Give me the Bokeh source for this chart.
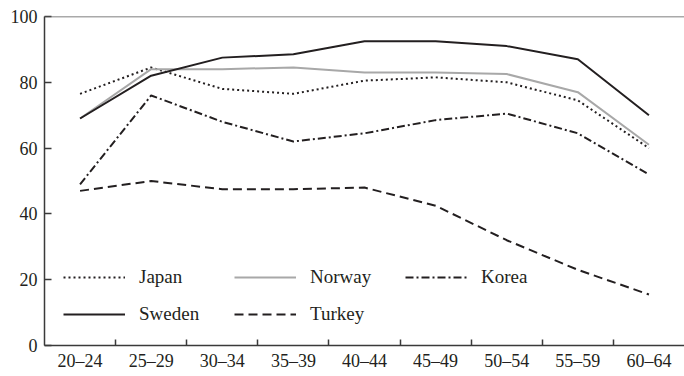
from bokeh.plotting import figure
from bokeh.models import (Range1d, LinearAxis, FixedTicker, Legend, LegendItem, Span,
                          CustomJSTickFormatter)
from bokeh.embed import file_html
from bokeh.resources import INLINE

age_groups = ["20–24", "25–29", "30–34", "35–39", "40–44", "45–49", "50–54", "55–59", "60–64"]
japan = [76.5, 84.5, 78, 76.5, 80.5, 81.5, 80, 74.5, 60]
norway = [69, 84, 84, 84.5, 83, 83, 82.5, 77, 61]
sweden = [69, 82, 87.5, 88.5, 92.5, 92.5, 91, 87, 70]
korea = [49, 76, 68, 62, 64.5, 68.5, 70.5, 64.5, 52]
turkey = [47, 50, 47.5, 47.5, 48, 42.5, 32, 23, 15.5]
y_ticks = [0, 20, 40, 60, 80, 100]

n = len(age_groups)
x_pos = [i + 0.5 for i in range(n)]          # centre of each age-group slot
x_bounds = list(range(1, n))                  # boundaries between slots

FONT = "Liberation Serif"
INK = "#231f20"
AXIS = "#3a3a3a"
GRAY = "#a8a8a8"

p = figure(frame_width=640, frame_height=329,
           x_range=Range1d(0, n), y_range=Range1d(y_ticks[0], y_ticks[-1]),
           x_axis_type=None, output_backend="svg", toolbar_location=None,
           min_border_left=44, min_border_right=0, min_border_top=16, min_border_bottom=0)
p.outline_line_color = None
p.ygrid.grid_line_color = None
p.background_fill_color = "white"

# y axis
p.yaxis.ticker = FixedTicker(ticks=y_ticks)
p.yaxis.major_tick_in = 7
p.yaxis.major_tick_out = 0
p.yaxis.minor_tick_line_color = None
p.yaxis.axis_line_color = AXIS
p.yaxis.axis_line_width = 1.5
p.yaxis.major_tick_line_color = AXIS
p.yaxis.major_tick_line_width = 1.5
p.yaxis.major_label_standoff = 7
p.yaxis.major_label_text_font = FONT
p.yaxis.major_label_text_font_size = "18px"
p.yaxis.major_label_text_color = INK

# x axis: labels at slot centres (major), tick marks at slot boundaries (minor)
x_axis = LinearAxis(ticker=FixedTicker(ticks=x_pos, minor_ticks=x_bounds),
                    formatter=CustomJSTickFormatter(args=dict(labels=age_groups),
                                                    code="return labels[Math.floor(tick)];"),
                    axis_line_color=AXIS, axis_line_width=1.5,
                    major_tick_line_color=None, major_tick_in=0, major_tick_out=0,
                    minor_tick_line_color=AXIS, minor_tick_line_width=1.5,
                    minor_tick_in=6, minor_tick_out=0,
                    major_label_standoff=5,
                    major_label_text_font=FONT, major_label_text_font_size="18px",
                    major_label_text_color=INK)
p.add_layout(x_axis, "below")

p.add_layout(Span(location=y_ticks[-1], dimension="width", line_color="#555555", line_width=1.5))

r_j = p.line(x_pos, japan, line_color=INK, line_width=2, line_dash="2 3")
r_n = p.line(x_pos, norway, line_color=GRAY, line_width=2)
r_k = p.line(x_pos, korea, line_color=INK, line_width=2, line_dash="8 3 2 3")
r_s = p.line(x_pos, sweden, line_color=INK, line_width=2)
r_t = p.line(x_pos, turkey, line_color=INK, line_width=2, line_dash="9 5")

common = dict(orientation="horizontal", glyph_width=62, glyph_height=20, label_height=20,
              label_standoff=14, label_width=85, spacing=10, padding=0, margin=0,
              border_line_color=None, background_fill_alpha=0,
              label_text_font=FONT, label_text_font_size="19px", label_text_color=INK)
leg1 = Legend(items=[LegendItem(label="Japan", renderers=[r_j]),
                     LegendItem(label="Norway", renderers=[r_n]),
                     LegendItem(label="Korea", renderers=[r_k])],
              location=(19, 57), **common)
leg2 = Legend(items=[LegendItem(label="Sweden", renderers=[r_s]),
                     LegendItem(label="Turkey", renderers=[r_t])],
              location=(19, 20), **common)
p.add_layout(leg1)
p.add_layout(leg2)

open("out.html", "w").write(file_html(p, INLINE))
